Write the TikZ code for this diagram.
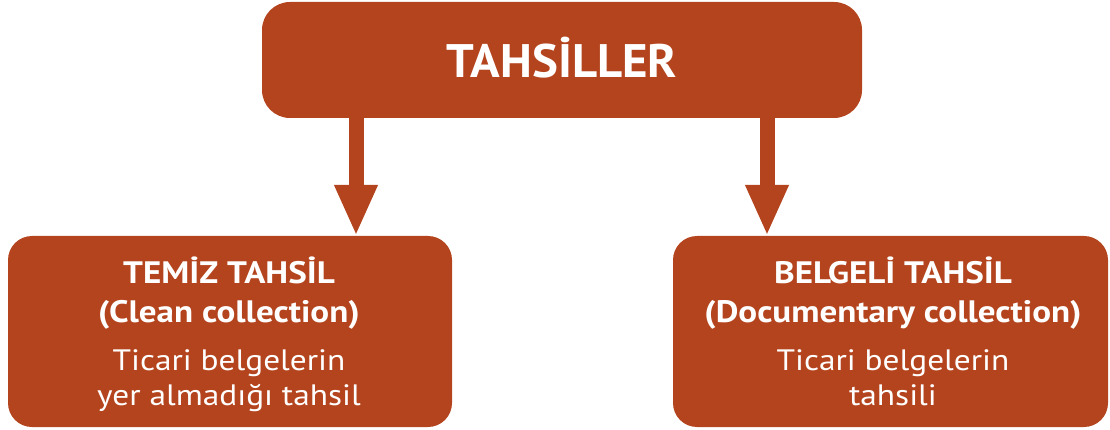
\documentclass[tikz,border=0pt]{standalone}
\usepackage{fontspec}
\setmainfont{PT Sans}[FakeStretch=1.13]
\newfontfamily\titlefont{PT Sans}[FakeStretch=1.04]
\usetikzlibrary{arrows.meta}
\definecolor{rust}{HTML}{B4441D}
\begin{document}
\begin{tikzpicture}[x=1pt,y=-1pt,
  box/.style={fill=rust, draw=none, inner sep=0pt},
  head/.style={text=white, font=\fontsize{31}{31}\selectfont\bfseries, anchor=base, inner sep=0pt},
  body/.style={text=white, font=\fontsize{29.5}{29.5}\selectfont, anchor=base, inner sep=0pt},
  conn/.style={draw=rust, line width=15pt, -{Triangle[width=40pt,length=51pt]}}]
\useasboundingbox (0,0) rectangle (1110,430);
\node[box, rounded corners=28pt, minimum width=600pt, minimum height=116pt] (top) at (562,60) {};
\node[box, rounded corners=24pt, minimum width=444pt, minimum height=191pt] (left) at (230,331.5) {};
\node[box, rounded corners=24pt, minimum width=435pt, minimum height=191pt] (right) at (890.5,331.5) {};
\node[head, font=\titlefont\fontsize{47}{47}\selectfont\bfseries] (t0) at (562,78) {TAHSİLLER};
\node[head] (l1) at (229,283) {TEMİZ TAHSİL};
\node[head] (l2) at (229,322) {(Clean collection)};
\node[body] (l3) at (229,370) {Ticari belgelerin};
\node[body] (l4) at (229,405) {yer almadığı tahsil};
\node[head] (r1) at (893,283) {BELGELİ TAHSİL};
\node[head] (r2) at (893,322) {(Documentary collection)};
\node[body] (r3) at (893,370) {Ticari belgelerin};
\node[body] (r4) at (893,405) {tahsili};
\coordinate (a1) at (356,0);
\coordinate (a2) at (767,0);
\draw[conn] (top.south -| a1) -- (left.north -| a1);
\draw[conn] (top.south -| a2) -- (right.north -| a2);
\end{tikzpicture}
\end{document}
